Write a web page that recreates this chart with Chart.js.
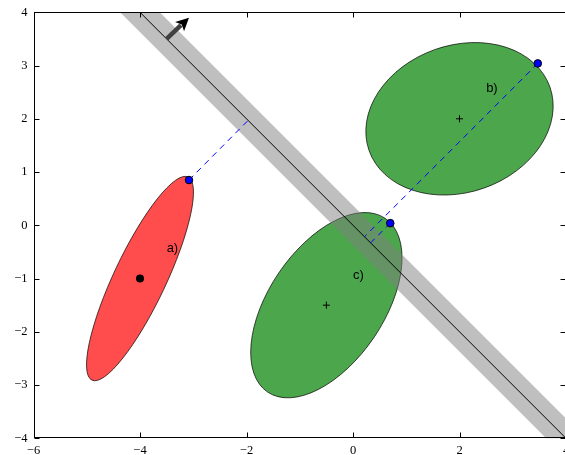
<!DOCTYPE html>
<html>
<head>
<meta charset="utf-8">
<script src="https://cdn.jsdelivr.net/npm/chart.js@4"></script>
<style>
  html, body { margin: 0; padding: 0; overflow: hidden; background: #fff; }
  #wrap { width: 566px; height: 455px; }
</style>
</head>
<body>
<div id="wrap"><canvas id="chart" width="566" height="455"></canvas></div>
<script>
// Ellipses: centre, semi-axes, rotation (degrees, data frame)
const ellipseCentersX = [-4, 2, -0.5];
const ellipseCentersY = [-1, 2, -1.5];
const ellipseMajor = [2.11, 1.80, 1.97];
const ellipseMinor = [0.49, 1.38, 1.08];
const ellipseAngles = [64.7, 19.3, 55.9];
const ellipseLabels = ['a)', 'b)', 'c)'];
const labelX = [-3.5, 2.5, 0];
const labelY = [-0.5, 2.5, -1];

// The separating line y = -x and its band
const lineX = [-5, 5];
const lineY = [5, -5];

// Closest points on each ellipse and their feet on the line
const contactX = [-3.08, 3.47, 0.70];
const contactY = [0.85, 3.04, 0.04];
const footX = [-1.97, 0.215, 0.33];
const footY = [1.97, -0.215, -0.33];

// Normal arrow
const arrowFrom = [-3.5, 3.5];
const arrowTo = [-3.08, 3.9];

const xTicks = [-6, -4, -2, 0, 2, 4];
const yTicks = [-4, -3, -2, -1, 0, 1, 2, 3, 4];

const ellipseFills = ['rgba(255,0,0,0.7)', 'rgba(0,128,0,0.7)', 'rgba(0,128,0,0.7)'];

// plot box in canvas pixels (the right spine sits just past the window edge)
const box = { left: 33.5, right: 566, top: 12.3, bottom: 438.3 };

const fmt = v => (v < 0 ? '\u2212' + Math.abs(v) : String(v));

const overlay = {
  id: 'overlay',
  afterLayout(chart) {
    const a = chart.chartArea;
    const { x, y } = chart.scales;
    Object.assign(a, box, { width: box.right - box.left, height: box.bottom - box.top });
    Object.assign(x, { left: box.left, right: box.right, width: box.right - box.left });
    Object.assign(y, { top: box.top, bottom: box.bottom, height: box.bottom - box.top, right: box.left });
    x.top = box.bottom; x.bottom = chart.height; x.height = x.bottom - x.top;
    x.configure();
    y.configure();
  },
  beforeDatasetsDraw(chart) {
    const { ctx, chartArea: a, scales: { x, y } } = chart;
    const sx = x.getPixelForValue(1) - x.getPixelForValue(0);
    const sy = y.getPixelForValue(0) - y.getPixelForValue(1);
    ctx.save();
    ctx.beginPath();
    ctx.rect(a.left, a.top, a.right - a.left, a.bottom - a.top);
    ctx.clip();
    ellipseCentersX.forEach((cx, i) => {
      ctx.save();
      ctx.translate(x.getPixelForValue(cx), y.getPixelForValue(ellipseCentersY[i]));
      ctx.scale(sx, -sy);
      ctx.rotate(ellipseAngles[i] * Math.PI / 180);
      ctx.beginPath();
      ctx.ellipse(0, 0, ellipseMajor[i], ellipseMinor[i], 0, 0, 2 * Math.PI);
      ctx.restore();
      ctx.fillStyle = ellipseFills[i];
      ctx.fill();
      ctx.strokeStyle = 'rgba(0,0,0,0.7)';
      ctx.lineWidth = 1;
      ctx.stroke();
    });
    ctx.restore();
  },
  afterDatasetsDraw(chart) {
    const { ctx, scales: { x, y } } = chart;
    ctx.save();
    // labels
    ctx.fillStyle = '#000';
    ctx.font = '13px "Liberation Sans", Arial, sans-serif';
    ctx.textAlign = 'left';
    ctx.textBaseline = 'alphabetic';
    ellipseLabels.forEach((t, i) => {
      ctx.fillText(t, x.getPixelForValue(labelX[i]), y.getPixelForValue(labelY[i]));
    });
    // arrow
    const x0 = x.getPixelForValue(arrowFrom[0]), y0 = y.getPixelForValue(arrowFrom[1]);
    const x1 = x.getPixelForValue(arrowTo[0]), y1 = y.getPixelForValue(arrowTo[1]);
    const ang = Math.atan2(y1 - y0, x1 - x0);
    const hl = 13, hw = 6.5;
    const bx = x1 - hl * Math.cos(ang), by = y1 - hl * Math.sin(ang);
    ctx.strokeStyle = '#404040';
    ctx.lineWidth = 4.5;
    ctx.beginPath();
    ctx.moveTo(x0, y0);
    ctx.lineTo(bx + 2 * Math.cos(ang), by + 2 * Math.sin(ang));
    ctx.stroke();
    ctx.fillStyle = '#000';
    ctx.beginPath();
    ctx.moveTo(x1, y1);
    ctx.lineTo(bx + hw * Math.sin(ang), by - hw * Math.cos(ang));
    ctx.lineTo(bx + 3 * Math.cos(ang), by + 3 * Math.sin(ang));
    ctx.lineTo(bx - hw * Math.sin(ang), by + hw * Math.cos(ang));
    ctx.closePath();
    ctx.fill();
    ctx.restore();
  },
  afterDraw(chart) {
    const { ctx, chartArea: a, scales: { x, y } } = chart;
    const L = Math.round(a.left) + 0.5, R = Math.round(a.right) - 0.5;
    const T = Math.round(a.top) + 0.5, B = Math.round(a.bottom) - 0.5;
    ctx.save();
    ctx.strokeStyle = '#000';
    ctx.lineWidth = 1;
    ctx.strokeRect(L, T, R - L, B - T);
    ctx.beginPath();
    xTicks.forEach(v => {
      const px = Math.round(x.getPixelForValue(v)) + 0.5;
      ctx.moveTo(px, B); ctx.lineTo(px, B - 5);
      ctx.moveTo(px, T); ctx.lineTo(px, T + 5);
    });
    yTicks.forEach(v => {
      const py = Math.round(y.getPixelForValue(v)) + 0.5;
      ctx.moveTo(L, py); ctx.lineTo(L + 5, py);
      ctx.moveTo(R, py); ctx.lineTo(R - 5, py);
    });
    ctx.stroke();
    ctx.restore();
  }
};

const pts = (xs, ys) => xs.map((v, i) => ({ x: v, y: ys[i] }));

const datasets = [
  {
    data: pts(contactX, contactY),
    pointRadius: 3.8, backgroundColor: '#0000ff', borderColor: '#000', borderWidth: 1,
    showLine: false, order: 0
  },
  {
    data: [{ x: ellipseCentersX[0], y: ellipseCentersY[0] }],
    pointRadius: 4, backgroundColor: '#000', borderColor: '#000', borderWidth: 0,
    showLine: false, order: 1
  },
  {
    data: pts(ellipseCentersX.slice(1), ellipseCentersY.slice(1)),
    pointStyle: 'cross', pointRadius: 3.5, borderColor: '#000', borderWidth: 1,
    showLine: false, order: 1
  }
];
contactX.forEach((cx, i) => {
  datasets.push({
    data: [{ x: cx, y: contactY[i] }, { x: footX[i], y: footY[i] }],
    showLine: true, pointRadius: 0, borderColor: '#0000ff', borderWidth: 1,
    borderDash: [6, 5], order: 2
  });
});
datasets.push({
  data: pts(lineX, lineY),
  showLine: true, pointRadius: 0, borderColor: '#000', borderWidth: 1, order: 3
});
datasets.push({
  data: pts(lineX, lineY),
  showLine: true, pointRadius: 0, borderColor: 'rgba(128,128,128,0.5)', borderWidth: 28,
  borderCapStyle: 'butt', order: 4
});

const tickFont = { family: '"Liberation Serif", "DejaVu Serif", serif', size: 12.5 };

new Chart(document.getElementById('chart'), {
  type: 'scatter',
  data: { datasets },
  options: {
    responsive: false,
    devicePixelRatio: 1,
    animation: false,
    events: [],
    layout: { padding: { top: 12, right: 0, left: 0, bottom: 0 } },
    plugins: { legend: { display: false }, tooltip: { enabled: false } },
    scales: {
      x: {
        type: 'linear', min: -6, max: 4,
        grid: { display: false, drawTicks: false }, border: { display: false },
        afterBuildTicks: s => { s.ticks = xTicks.map(v => ({ value: v })); },
        ticks: {
          autoSkip: false, maxRotation: 0, padding: 5, color: '#000',
          font: tickFont,
          callback: v => fmt(v)
        }
      },
      y: {
        type: 'linear', min: -4, max: 4,
        grid: { display: false, drawTicks: false }, border: { display: false },
        afterBuildTicks: s => { s.ticks = yTicks.map(v => ({ value: v })); },
        ticks: {
          autoSkip: false, padding: 6, color: '#000',
          font: tickFont,
          callback: v => fmt(v)
        }
      }
    }
  },
  plugins: [overlay]
});
</script>
</body>
</html>
